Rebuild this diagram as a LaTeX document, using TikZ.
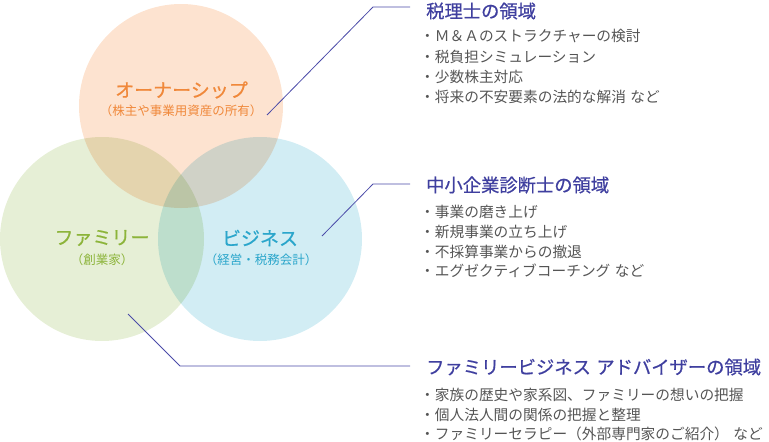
\documentclass[tikz,border=0pt]{standalone}
\usepackage{fontspec}
\setmainfont{Noto Sans CJK JP}
\newfontfamily\jp{Noto Sans CJK JP}
\newfontfamily\jpb[FakeBold=0.6]{Noto Sans CJK JP}
\definecolor{cOwn}{HTML}{FDE3D0}
\definecolor{cFam}{HTML}{E6EFD6}
\definecolor{cBiz}{HTML}{D2EDF4}
\definecolor{tOwn}{HTML}{F0883A}
\definecolor{tFam}{HTML}{8CB43A}
\definecolor{tBiz}{HTML}{2BA6CB}
\definecolor{head}{HTML}{3F3F9F}
\definecolor{lineC}{HTML}{4B4BA8}
\definecolor{item}{HTML}{555555}
\begin{document}
\begin{tikzpicture}[x=1pt,y=-1pt,
  circ/.style={blend mode=multiply},
  ttl/.style={inner sep=0pt,font=\jpb\fontsize{19}{19}\selectfont},
  sub/.style={inner sep=0pt,font=\jp\fontsize{12.5}{13}\selectfont},
  hd/.style={inner sep=0pt,anchor=west,text=head,font=\jpb\fontsize{18.3}{19}\selectfont},
  it/.style={inner sep=0pt,anchor=west,text=item,font=\jp\fontsize{14.7}{15}\selectfont},
  conn/.style={draw=lineC,line width=0.8pt}]
\useasboundingbox (0,0) rectangle (769,442);
% circles
\fill[circ,cOwn] (181,106) circle (102);
\fill[circ,cFam] (102,239) circle (102);
\fill[circ,cBiz] (260,239) circle (102);
% circle labels
\node[ttl,text=tOwn] (own) at (181.5,90) {オーナーシップ};
\node[sub,text=tOwn] (owns) at (181,111) {（株主や事業用資産の所有）};
\node[ttl,text=tFam] (fam) at (102,238) {ファミリー};
\node[sub,text=tFam] (fams) at (102,260) {（創業家）};
\node[ttl,text=tBiz] (biz) at (260,238) {ビジネス};
\node[sub,text=tBiz] (bizs) at (261,260) {（経営・税務会計）};
% connectors
\coordinate (a0) at (267,115);
\coordinate (a1) at (373,7);
\coordinate (a2) at (410,7);
\coordinate (b0) at (322,236);
\coordinate (b1) at (373,184);
\coordinate (b2) at (410,184);
\coordinate (c0) at (128,314);
\coordinate (c1) at (180,366);
\coordinate (c2) at (410,366);
\draw[conn] (a0) -- (a1) -- (a2);
\draw[conn] (b0) -- (b1) -- (b2);
\draw[conn] (c0) -- (c1) -- (c2);
% group 1
\node[hd] (h1) at (426,11) {税理士の領域};
\node[it] (i11) at (420,36) {・Ｍ＆Ａのストラクチャーの検討};
\node[it] (i12) at (420,56.5) {・税負担シミュレーション};
\node[it] (i13) at (420,77) {・少数株主対応};
\node[it] (i14) at (420,97) {・将来の不安要素の法的な解消\hspace{0.3em}など};
% group 2
\node[hd] (h2) at (426,185) {中小企業診断士の領域};
\node[it] (i21) at (420,212) {・事業の磨き上げ};
\node[it] (i22) at (420,232) {・新規事業の立ち上げ};
\node[it] (i23) at (420,252) {・不採算事業からの撤退};
\node[it] (i24) at (420,271) {・エグゼクティブコーチング\hspace{0.3em}など};
% group 3
\node[hd] (h3) at (426,367) {ファミリービジネス\hspace{0.3em}アドバイザーの領域};
\node[it] (i31) at (420,395) {・家族の歴史や家系図、ファミリーの想いの把握};
\node[it] (i32) at (420,414.5) {・個人法人間の関係の把握と整理};
\node[it] (i33) at (420,434) {・ファミリーセラピー（外部専門家のご紹介）\hspace{0.3em}など};
\end{tikzpicture}
\end{document}
